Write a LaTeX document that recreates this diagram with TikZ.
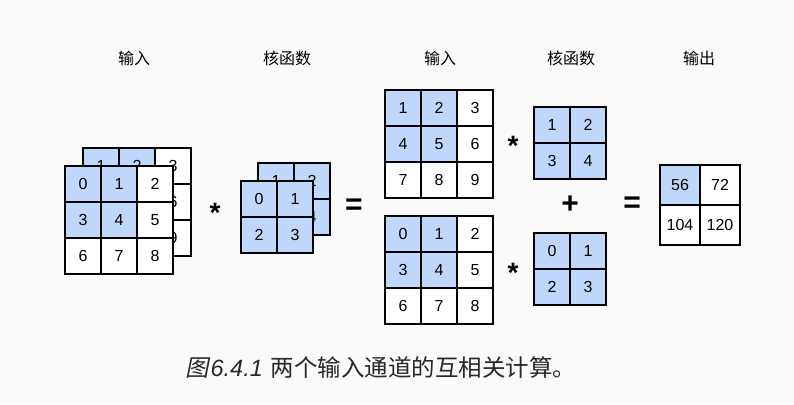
\documentclass[tikz,border=0pt]{standalone}
\usepackage{fontspec}
\setmainfont{Liberation Sans}
\newfontfamily\cjk{Noto Sans CJK SC}
\newfontfamily\cjkslant[FakeSlant=0.2]{Noto Sans CJK SC}
\definecolor{cellblue}{RGB}{191,215,250}
\definecolor{pagegray}{RGB}{250,250,250}
\definecolor{captiongray}{RGB}{40,40,40}
\tikzset{
x=1pt, y=-1pt, % one unit is one pixel of the reference
cell/.style={draw=black, line width=1.5pt, fill=white, inner sep=0pt, font=\fontsize{16}{16}\selectfont}, % plain entry
hot/.style={cell, fill=cellblue}, % entry that takes part in the product
head/.style={font=\cjk\fontsize{16}{16}\selectfont}, % titles over the columns
oper/.style={font=\bfseries\fontsize{30}{30}\selectfont, inner sep=0pt}, % = and +
star/.style={font=\bfseries\fontsize{28}{28}\selectfont, inner sep=0pt}, % convolution sign
}
% name, left, top, columns, size of blue corner, cell size, entries
\newcommand{\matgrid}[7]{%
  \foreach \v [count=\k from 0] in {#7} {
    \pgfmathtruncatemacro{\r}{div(\k,#4)}
    \pgfmathtruncatemacro{\c}{mod(\k,#4)}
    \pgfmathtruncatemacro{\h}{(\r<#5)&&(\c<#5)}
    \ifnum\h=1 \def\sty{hot}\else\def\sty{cell}\fi
    \node[\sty, minimum size=#6pt] (#1-\r-\c) at (#2+#6/2+#6*\c, #3+#6/2+#6*\r) {\v};
  }}

\begin{document}
\begin{tikzpicture}
  \fill[pagegray] (0,0) rectangle (794,404);
  \useasboundingbox (0,0) rectangle (794,404);

  % column titles
  \node[head] (inA) at (134,58) {输入};
  \node[head] (kerA) at (287,58) {核函数};
  \node[head] (inB) at (440,58) {输入};
  \node[head] (kerB) at (571,58) {核函数};
  \node[head] (outB) at (699,58) {输出};

  % two channel input and kernel
  \matgrid{xback}{83}{148}{3}{2}{36}{1,2,3,4,5,6,7,8,9}
  \matgrid{xfront}{65}{166}{3}{2}{36}{0,1,2,3,4,5,6,7,8}
  \matgrid{kback}{258}{163}{2}{2}{36}{1,2,3,4}
  \matgrid{kfront}{241}{181}{2}{2}{36}{0,1,2,3}

  % channel by channel
  \matgrid{xone}{385}{90}{3}{2}{36}{1,2,3,4,5,6,7,8,9}
  \matgrid{xzero}{385}{216}{3}{2}{36}{0,1,2,3,4,5,6,7,8}
  \matgrid{kone}{534}{107}{2}{2}{36}{1,2,3,4}
  \matgrid{kzero}{534}{233}{2}{2}{36}{0,1,2,3}

  % result
  \matgrid{y}{660}{165}{2}{1}{40}{56,72,104,120}

  \node[star] (conv) at (215,213) {*};
  \node[oper] (eqA) at (354,207) {=};
  \node[star] (convone) at (513,146) {*};
  \node[star] (convzero) at (513,273) {*};
  \node[oper] (plus) at (570,205) {+};
  \node[oper] (eqB) at (632,205) {=};

  \node[text=captiongray, font=\fontsize{23.5}{23.5}\selectfont] (cap) at (381,368)
    {{\cjkslant 图}\hspace{1.5pt}\textit{6.4.1}\hspace{8pt}{\cjk 两个输入通道的互相关计算。}};
\end{tikzpicture}
\end{document}
